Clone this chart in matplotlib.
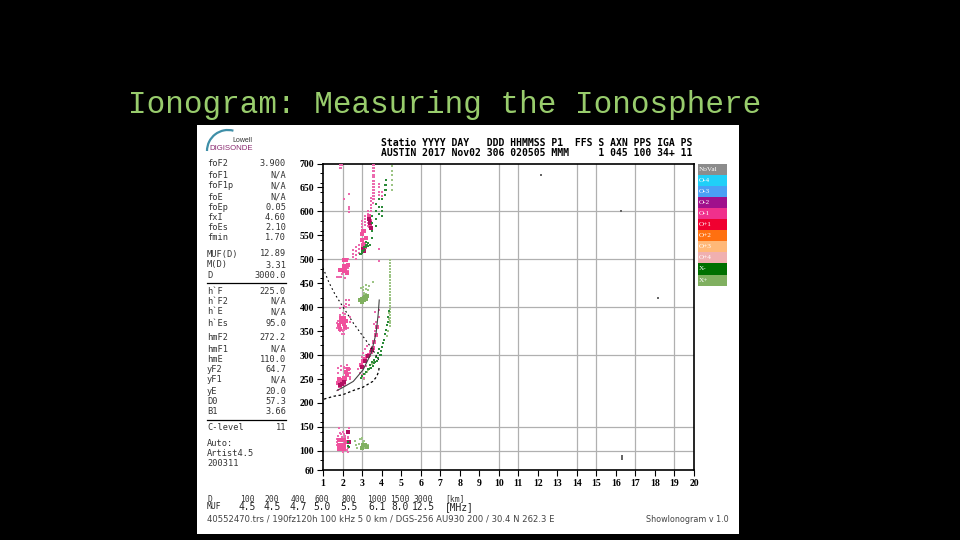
import matplotlib
matplotlib.use("Agg")
import matplotlib.pyplot as plt
from matplotlib.patches import Rectangle, Arc

# ---- header / side-table text ----
TITLE = "Ionogram: Measuring the Ionosphere"
HEAD_1 = "Statio YYYY DAY   DDD HHMMSS P1  FFS S AXN PPS IGA PS"
HEAD_2 = "AUSTIN 2017 Nov02 306 020505 MMM     1 045 100 34+ 11"
TABLE_LABELS = ["foF2", "foF1", "foF1p", "foE", "foEp", "fxI", "foEs", "fmin",
                "MUF(D)", "M(D)", "D", "h`F", "h`F2", "h`E", "h`Es",
                "hmF2", "hmF1", "hmE", "yF2", "yF1", "yE", "D0", "B1", "C-level"]
TABLE_VALUES = ["3.900", "N/A", "N/A", "N/A", "0.05", "4.60", "2.10", "1.70",
                "12.89", "3.31", "3000.0", "225.0", "N/A", "N/A", "95.0",
                "272.2", "N/A", "110.0", "64.7", "N/A", "20.0", "57.3", "3.66", "11"]
AUTO_LINES = ["Auto:", "Artist4.5", "200311"]
D_LABELS = ["100", "200", "400", "600", "800", "1000", "1500", "3000"]
MUF_LABELS = ["4.5", "4.5", "4.7", "5.0", "5.5", "6.1", "8.0", "12.5"]
FOOT_LEFT = "40552470.trs / 190fz120h 100 kHz 5 0 km / DGS-256 AU930 200 / 30.4 N 262.3 E"
FOOT_RIGHT = "ShowIonogram v 1.0"
LEGEND_NAMES = ["NoVal", "O-4", "O-3", "O-2", "O-1", "O+1", "O+2", "O+3", "O+4", "X-", "X+"]
LEGEND_COLORS = ["#8c8c8c", "#20d0f8", "#4aa0f5", "#a0108c", "#f0308c", "#f00030",
                 "#ff7010", "#ffb878", "#f0b0b0", "#007000", "#80b060"]

# ---- axis ----
FREQ_TICKS = list(range(1, 21))
FREQ_GRID = [2, 3, 6, 7, 10, 11, 14, 15, 17, 19]
HEIGHT_TICKS = [60, 100, 150, 200, 250, 300, 350, 400, 450, 500, 550, 600, 650, 700]
HEIGHT_GRID = [100, 150, 300, 400, 500, 600]

# ---- traces: frequency (MHz), virtual height (km) ----
o1_dots_f = [1.85, 1.85, 1.92, 1.92, 1.98, 2.33, 2.1, 2.33, 2.33, 2.33,
             3.55, 3.55, 3.55, 3.55, 3.55, 3.55, 3.55, 3.55, 3.55, 3.55, 3.55, 3.55, 3.55,
             3.63, 3.63, 3.63, 3.63, 3.63, 3.63, 3.63, 3.63, 3.63, 3.63, 3.63, 3.63,
             3.85, 3.85, 3.85, 3.85, 4.0, 4.0, 4.0,
             3.47, 3.47, 3.47, 3.47, 3.47, 3.3, 3.3, 3.3, 3.3, 3.3, 3.3,
             3.15, 3.15, 3.15, 3.15, 3.0, 3.0, 3.0, 3.0, 3.85, 3.85,
             2.55, 2.55, 2.55, 2.7, 2.7, 2.7, 2.7, 2.85, 2.85, 2.85,
             2.3, 2.3, 2.3, 2.0, 2.15, 2.3, 1.95, 2.3, 2.15, 1.7, 1.8, 1.9,
             2.2, 2.2, 2.2, 2.33, 2.33, 2.05, 1.85,
             1.75, 1.75, 1.85, 2.0, 2.15, 2.2, 2.0, 1.85, 1.95, 2.1, 2.2,
             1.75, 1.9, 2.05, 2.2, 2.3, 2.3, 2.05, 2.15,
             1.83, 2.33, 2.33, 1.9, 2.1, 1.95, 2.15, 2.3,
             3.05, 3.15, 3.25, 3.0, 3.2, 3.72, 3.65, 3.72, 3.65, 3.6, 3.85, 3.85,
             1.7, 1.8, 1.95, 2.1, 2.3, 2.4, 1.72, 1.85, 2.2, 2.4,
             1.75, 1.9, 2.1, 2.25, 2.4, 2.4, 2.4, 1.75, 2.4,
             1.75, 1.85, 2.0, 2.15, 2.3, 1.95, 2.25, 2.8, 2.9, 3.0, 3.1,
             1.72, 1.72, 1.72, 2.0, 2.0, 2.3, 2.3]
o1_dots_h = [697, 690, 697, 690, 697, 637, 625, 610, 604, 599,
             697, 690, 684, 677, 671, 664, 658, 651, 645, 638, 632, 625, 618,
             697, 690, 684, 677, 671, 664, 658, 651, 645, 638, 632, 625,
             658, 650, 640, 634, 640, 632, 625,
             628, 621, 614, 607, 600, 600, 594, 588, 582, 576, 570,
             590, 584, 578, 572, 580, 574, 568, 562, 521, 497,
             520, 512, 505, 525, 517, 509, 501, 530, 522, 514,
             500, 490, 482, 496, 496, 475, 470, 470, 460, 464, 464, 464,
             415, 407, 400, 415, 405, 402, 398,
             372, 362, 384, 387, 385, 372, 350, 350, 345, 345, 355,
             262, 268, 272, 274, 270, 262, 252, 238,
             148, 148, 141, 135, 135, 128, 128, 127,
             305, 312, 318, 295, 278, 370, 390, 340, 350, 365, 395, 380,
             356, 356, 352, 352, 356, 380, 366, 375, 360, 368,
             274, 278, 276, 280, 270, 262, 255, 228, 250,
             130, 138, 140, 132, 128, 102, 102, 270, 262, 258, 252,
             112, 118, 124, 102, 98, 98, 105]

o1_blob_f = [3.05, 3.0, 3.12, 3.0, 3.1, 3.2, 3.05, 3.15, 3.35, 3.4, 3.4,
             2.2, 2.1, 2.1, 2.2, 2.3, 2.0, 1.85, 2.05, 2.15, 2.25,
             1.9, 2.0, 2.1, 1.9, 2.0, 2.1, 1.8, 2.2, 1.85, 2.15,
             1.8, 1.9, 2.0, 2.1, 1.85, 1.95, 2.05, 2.15, 2.25, 2.2, 1.75, 2.3,
             1.8, 1.9, 2.0, 2.1, 1.8, 1.9, 2.0, 2.1, 2.2, 1.8, 1.95, 2.1,
             2.95, 3.05, 3.15, 3.25, 3.35, 3.45, 3.55, 3.62, 3.7, 3.75]
o1_blob_h = [560, 553, 560, 540, 532, 545, 530, 525, 590, 580, 570,
             498, 498, 485, 485, 488, 478, 478, 475, 480, 472,
             378, 378, 378, 370, 370, 365, 362, 372, 355, 358,
             250, 244, 248, 252, 236, 240, 243, 250, 258, 264, 242, 270,
             122, 122, 122, 122, 112, 112, 112, 112, 118, 104, 104, 104,
             280, 288, 292, 298, 300, 306, 315, 328, 342, 358]

o1_red_f = [3.35, 3.4, 3.45, 3.05, 3.1, 1.85, 1.95, 2.05, 3.0, 3.15, 3.3, 3.5, 2.3, 2.33]
o1_red_h = [585, 575, 565, 522, 518, 238, 240, 243, 275, 288, 297, 310, 140, 118]

x_dark_f = [3.0, 3.1, 3.2, 3.3, 2.95, 3.05, 3.15, 3.25, 2.9, 3.0, 3.1, 3.2, 2.3, 2.3, 2.35,
            4.38, 4.35, 4.32, 4.3, 4.25, 4.2, 4.13, 4.08, 4.02, 3.97, 3.9, 3.83, 3.75, 3.68,
            3.63, 3.55, 3.45, 3.35, 3.3, 3.2, 3.1, 3.0, 2.95,
            3.5, 3.5, 3.5, 3.5, 3.7, 3.7, 3.7, 3.7, 3.85, 3.85, 3.85,
            4.15, 4.15, 4.15, 4.25, 4.25, 4.25, 4.0, 4.0, 4.0, 4.0,
            3.4, 3.3, 3.2, 3.8, 3.7, 3.6, 3.5, 3.4, 3.95, 3.85]
x_dark_h = [518, 525, 530, 533, 512, 518, 525, 530, 510, 514, 520, 525, 118, 110, 108,
            392, 380, 370, 362, 352, 343, 332, 325, 317, 308, 300, 293, 288, 285,
            283, 278, 274, 271, 270, 265, 261, 257, 253,
            590, 575, 560, 545, 615, 600, 585, 570, 625, 610, 595,
            655, 645, 635, 665, 655, 645, 625, 610, 600, 590,
            530, 528, 536, 305, 295, 290, 285, 280, 300, 312]

x_light_f = [2.88, 2.95, 3.03, 3.12, 3.2, 2.95, 3.05, 3.15, 3.25, 3.3, 3.1,
             2.95, 3.05, 3.2, 3.35, 3.55, 3.05, 3.2, 3.3,
             3.05, 3.12, 3.2, 3.3, 3.05, 3.1, 3.2, 2.95, 3.0, 3.1, 2.7, 2.65, 2.85, 2.9, 2.95, 2.75,
             4.45, 4.45, 4.45, 4.45, 4.45, 4.45, 4.45, 4.45, 4.45, 4.45, 4.45, 4.45,
             4.45, 4.45, 4.45, 4.45, 4.45, 4.45, 4.45, 4.45, 4.45, 4.45, 4.45, 4.45,
             4.42, 4.4, 4.38, 4.35, 4.3, 4.55, 4.55, 4.55, 4.55, 4.55, 4.55,
             3.3, 3.4, 3.15, 3.25, 3.5, 3.6, 3.0, 3.1]
x_light_h = [417, 418, 422, 426, 428, 412, 415, 420, 425, 425, 430,
             440, 442, 447, 445, 452, 435, 437, 436,
             118, 115, 112, 113, 108, 106, 106, 124, 127, 121, 112, 120, 115, 125, 108, 105,
             498, 492, 486, 480, 474, 468, 462, 456, 450, 444, 438, 432,
             426, 420, 414, 408, 402, 396, 390, 384, 378, 372, 366, 360,
             396, 388, 376, 350, 340, 695, 685, 675, 665, 655, 645,
             268, 274, 260, 264, 282, 288, 254, 250]

x_light_blob_f = [2.92, 3.0, 3.08, 3.16, 3.24, 3.0, 3.1, 3.18, 3.05, 3.15, 3.25, 2.98]
x_light_blob_h = [416, 417, 419, 421, 424, 411, 414, 417, 112, 112, 108, 106]

stray_f = [12.15, 16.25, 18.15, 16.3, 16.3, 16.3]
stray_h = [675, 600, 420, 90, 86, 82]

model_a_f = [1.0, 1.3, 1.6, 2.0, 2.55, 3.05, 3.55, 3.85]
model_a_h = [482, 452, 428, 402, 367, 339, 311, 290]
model_b_f = [1.05, 1.55, 2.0, 2.55, 3.05, 3.55, 3.75, 3.85, 3.88]
model_b_h = [208, 214, 217, 226, 233, 245, 255, 266, 276]
model_c_f = [1.72, 2.0, 2.55, 3.05, 3.47, 3.72, 3.83, 3.88]
model_c_h = [226, 232, 245, 269, 304, 346, 387, 415]

# ---- drawing ----
W, H = 960, 540
fig = plt.figure(figsize=(W / 100, H / 100), dpi=100, facecolor="black")
bg = fig.add_axes([0, 0, 1, 1])
bg.set_xlim(0, W)
bg.set_ylim(H, 0)
bg.axis("off")
bg.add_patch(Rectangle((197, 125), 542, 409, fc="white", ec="none"))

MONO = "DejaVu Sans Mono"
bg.text(127.5, 105, TITLE, color="#98cc6c", family="Liberation Mono", fontsize=22.3, va="center")

# logo
bg.add_patch(Arc((228, 151), 42, 42, theta1=180, theta2=285, color="#3f8fa8", lw=1.6))
bg.text(252, 140.5, "Lowell", fontsize=5, color="#333333", ha="right", va="center", family="Liberation Sans")
bg.text(253, 149, "DIGISONDE", fontsize=5.6, color="#8a2a70", ha="right", va="center", family="Liberation Sans")

# header
bg.text(381, 142.5, HEAD_1, family=MONO, fontsize=7.05, color="black", va="center", weight="bold")
bg.text(381, 152.5, HEAD_2, family=MONO, fontsize=7.05, color="black", va="center", weight="bold")

# side table
ROW_Y = [164, 175, 186, 197, 207, 217, 228, 238, 254, 265, 276, 291, 301, 312, 323,
         337, 349, 359, 370, 380, 391, 401, 412, 427]
for y, lab, val in zip(ROW_Y, TABLE_LABELS, TABLE_VALUES):
    bg.text(207, y, lab, family=MONO, fontsize=6.2, color="#333333", va="center")
    bg.text(286, y, val, family=MONO, fontsize=6.2, color="#333333", va="center", ha="right")
for y in (283, 420):
    bg.plot([207, 286], [y, y], color="black", lw=0.9)
for y, s in zip((443, 454, 464), AUTO_LINES):
    bg.text(207, y, s, family=MONO, fontsize=6.2, color="#333333", va="center")

# bottom table
D_X = [247, 272, 298, 322, 349, 377, 400, 423]
bg.text(207, 499, "D", family=MONO, fontsize=5.8, color="#333333", va="center")
bg.text(207, 506.8, "MUF", family=MONO, fontsize=5.8, color="#222222", va="center")
for x, a, b in zip(D_X, D_LABELS, MUF_LABELS):
    bg.text(x, 499, a, family=MONO, fontsize=5.8, color="#333333", va="center", ha="center")
    bg.text(x, 506.8, b, family=MONO, fontsize=6.9, color="#222222", va="center", ha="center")
bg.text(445, 499, "[km]", family=MONO, fontsize=5.8, color="#333333", va="center")
bg.text(445, 506.8, "[MHz]", family=MONO, fontsize=6.9, color="#222222", va="center")
bg.text(207, 519, FOOT_LEFT, family="DejaVu Sans", fontsize=6.15, color="#444444", va="center")
bg.text(729, 519, FOOT_RIGHT, family="DejaVu Sans", fontsize=5.75, color="#444444", va="center", ha="right")

# legend
for i, (name, col) in enumerate(zip(LEGEND_NAMES, LEGEND_COLORS)):
    y0 = 163.5 + i * 11.1
    bg.add_patch(Rectangle((697.5, y0), 29, 11.1, fc=col, ec="none"))
    bg.text(698.5, y0 + 5.6, name, color="white", fontsize=5.2, va="center", family="Liberation Serif")

# plot area
ax = fig.add_axes([323 / W, 1 - 470 / H, (694 - 323) / W, (470 - 163.5) / H], facecolor="white")
ax.set_xlim(1, 20)
ax.set_ylim(60, 700)
ax.set_xticks(FREQ_TICKS)
ax.set_yticks(HEIGHT_TICKS)
ax.set_yticks(list(range(60, 700, 20)), minor=True)
for f in FREQ_GRID:
    ax.axvline(f, color="#b0b0b0", lw=0.9, zorder=1)
for h in HEIGHT_GRID:
    ax.axhline(h, color="#b0b0b0", lw=0.9, zorder=1)
for s in ax.spines.values():
    s.set_linewidth(1.2)
ax.tick_params(axis="both", which="major", length=4, width=0.8, pad=2.5)
ax.tick_params(axis="y", which="minor", length=2.5, width=0.7)
for lab in ax.get_xticklabels() + ax.get_yticklabels():
    lab.set_family("Liberation Serif")
    lab.set_weight("bold")
    lab.set_fontsize(7)

ax.plot(model_a_f, model_a_h, color="black", lw=0.8, ls=(0, (1.5, 2.5)), zorder=4)
ax.plot(model_b_f, model_b_h, color="black", lw=0.9, ls=(0, (2, 2)), zorder=4)
ax.plot(model_c_f, model_c_h, color="#444444", lw=0.8, zorder=4)
ax.scatter(x_light_f, x_light_h, s=1.0, marker="s", color="#9cc484", lw=0, zorder=3)
ax.scatter(x_light_blob_f, x_light_blob_h, s=7, marker="s", color="#80b060", lw=0, zorder=3)
ax.scatter(o1_dots_f, o1_dots_h, s=1.1, marker="s", color="#ec6aae", lw=0, zorder=3)
ax.scatter(o1_blob_f, o1_blob_h, s=8, marker="s", color="#f0509c", lw=0, zorder=3)
ax.scatter(o1_red_f, o1_red_h, s=5, marker="s", color="#b01060", lw=0, zorder=3)
ax.scatter(x_dark_f, x_dark_h, s=2.5, marker="s", color="#2a8a38", lw=0, zorder=3)
ax.scatter(stray_f, stray_h, s=0.8, marker="s", color="#666666", lw=0, zorder=3)

fig.savefig("out.png", dpi=100, facecolor="black")
